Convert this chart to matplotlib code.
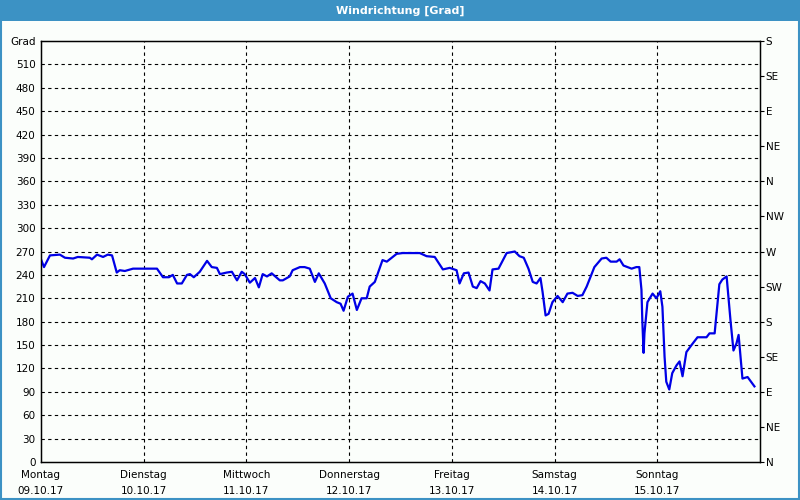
import matplotlib
matplotlib.use('Agg')
import matplotlib.pyplot as plt
from matplotlib.patches import Rectangle

# Stunden seit Montag 00:00
stunden = [0.0, 0.7, 2.1, 4.4, 5.6, 7.5, 8.6, 11.4, 11.9, 13.1, 14.5, 15.6, 16.6, 17.7, 18.4,
           19.6, 21.5, 27.1, 28.5, 29.9, 30.8, 31.8, 32.9, 34.1, 34.8, 35.7, 37.1, 38.8, 39.9,
           41.1, 41.8, 43.4, 44.6, 45.8, 46.9, 47.6, 48.8, 50.0, 50.9, 51.8, 52.8, 53.9, 55.8,
           56.5, 58.1, 58.8, 60.5, 61.6, 62.8, 64.0, 64.9, 66.3, 67.7, 69.1, 70.0, 70.7, 71.7,
           72.8, 73.8, 74.9, 76.1, 76.8, 78.0, 79.8, 80.8, 83.1, 84.5, 88.5, 90.1, 92.0, 93.9,
           95.5, 97.1, 97.8, 98.8, 99.9, 100.9, 101.8, 102.7, 103.7, 104.8, 105.5, 106.9, 108.8,
           110.7, 111.8, 112.8, 113.9, 114.9, 115.8, 116.7, 117.2, 117.9, 118.6, 119.5, 120.7,
           121.9, 123.0, 124.2, 125.4, 126.5, 127.5, 129.3, 131.0, 132.1, 133.1, 134.5, 135.2,
           136.1, 138.0, 139.1, 139.8, 140.3, 140.5, 140.8, 141.0, 141.7, 142.9, 143.8, 144.7,
           145.2, 145.7, 146.1, 146.8, 147.5, 148.5, 149.2, 149.9, 150.8, 152.0, 153.4, 155.5,
           156.2, 157.4, 158.5, 159.2, 160.2, 161.1, 161.8, 162.5, 163.0, 163.9, 165.1, 166.7]
richtung = [260, 250, 265, 266, 262, 261, 263, 262, 260, 266, 263, 266, 265, 243, 246,
            245, 248, 248, 237, 237, 240, 229, 229, 240, 241, 237, 244, 258, 250,
            249, 241, 243, 244, 233, 244, 241, 230, 236, 224, 241, 238, 242, 233,
            233, 238, 246, 250, 250, 248, 231, 242, 229, 210, 205, 203, 194, 212,
            216, 195, 210, 210, 225, 231, 259, 257, 267, 268, 268, 264, 263, 247,
            249, 246, 229, 242, 243, 225, 223, 232, 229, 220, 247, 248, 268,
            270, 264, 262, 248, 231, 229, 236, 218, 188, 190, 205, 213,
            205, 216, 217, 213, 214, 225, 250, 261, 262, 257, 257, 260,
            252, 248, 250, 250, 221, 182, 140, 165, 205, 216, 210, 219,
            199, 135, 103, 93, 114, 124, 129, 110, 141, 150, 160, 160,
            165, 165, 228, 234, 238, 182, 143, 152, 163, 107, 109, 97]

tage = ['Montag\n09.10.17', 'Dienstag\n10.10.17', 'Mittwoch\n11.10.17', 'Donnerstag\n12.10.17',
        'Freitag\n13.10.17', 'Samstag\n14.10.17', 'Sonntag\n15.10.17']
grad_ticks = list(range(0, 541, 30))
grad_labels = [str(v) for v in range(0, 511, 30)] + ['Grad']
himmel_ticks = list(range(0, 541, 45))
himmel_labels = ['N', 'NE', 'E', 'SE', 'S', 'SW', 'W', 'NW', 'N', 'NE', 'E', 'SE', 'S']

plt.rcParams['font.family'] = ['DejaVu Sans']

fig = plt.figure(figsize=(8, 5), dpi=100, facecolor='#fbfefb')
# Titelleiste und Rahmen
fig.patches.append(Rectangle((0, 1 - 21 / 500), 1, 21 / 500, transform=fig.transFigure,
                             facecolor='#3c92c4', edgecolor='none', zorder=0))
fig.patches.append(Rectangle((0.001, 0.002), 0.998, 0.996, transform=fig.transFigure,
                             facecolor='none', edgecolor='#3c92c4', linewidth=1.5, zorder=0))
fig.text(0.5, 1 - 11 / 500, 'Windrichtung [Grad]', color='white', fontsize=8, fontweight='bold',
         ha='center', va='center')

ax = fig.add_axes([41 / 800, 38 / 500, 719 / 800, 421 / 500])
ax.set_facecolor('#fbfefb')
ax.plot(stunden, richtung, color='#0000e6', linewidth=1.6, zorder=3)

ax.set_xlim(0, 168)
ax.set_ylim(0, 540)
ax.set_xticks([24 * i for i in range(7)])
ax.set_xticklabels(tage, fontsize=7.5, linespacing=1.75)
ax.set_yticks(grad_ticks)
ax.set_yticklabels(grad_labels, fontsize=7.5)
ax.tick_params(axis='y', length=0, pad=4)
ax.tick_params(axis='x', length=0, pad=6)

for v in range(30, 511, 30):
    ax.axhline(v, color='black', linestyle=(0, (3, 3)), linewidth=0.8, zorder=1)
for i in range(1, 7):
    ax.axvline(24 * i, color='black', linestyle=(0, (3, 3)), linewidth=0.8, zorder=1)

for s in ax.spines.values():
    s.set_linewidth(1.0)

ax2 = ax.twinx()
ax2.set_ylim(0, 540)
ax2.set_yticks(himmel_ticks)
ax2.set_yticklabels(himmel_labels, fontsize=7.5)
ax2.tick_params(axis='y', length=3, width=0.8, pad=1)

fig.savefig('out.png', dpi=100, facecolor=fig.get_facecolor())
